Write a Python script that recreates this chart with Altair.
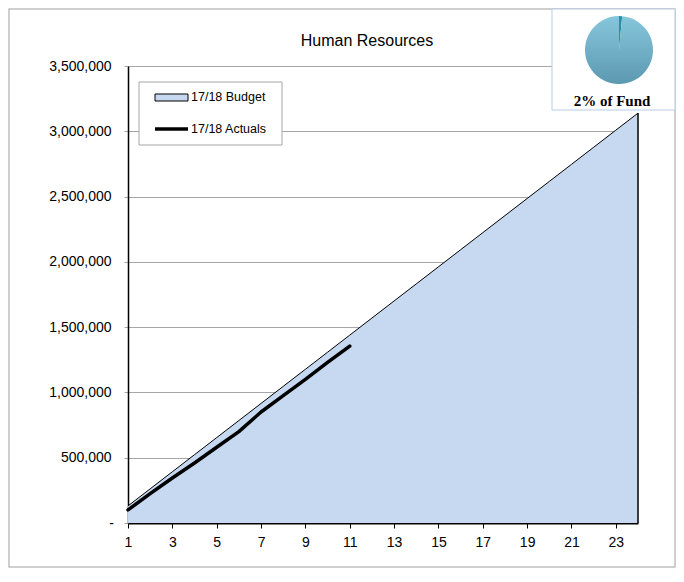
import altair as alt
import pandas as pd

# ---------------- data ----------------
periods = list(range(1, 25))
budget = [130800, 261600, 392400, 523200, 654000, 784800, 915600, 1046400,
          1177200, 1308000, 1438800, 1569600, 1700400, 1831200, 1962000, 2092800,
          2223600, 2354400, 2485200, 2616000, 2746800, 2877600, 3008400, 3139200]
actual_periods = list(range(1, 12))
actuals = [100000, 225000, 345000, 460000, 580000, 700000, 850000, 975000,
           1100000, 1230000, 1355000]
y_ticks = [0, 500000, 1000000, 1500000, 2000000, 2500000, 3000000, 3500000]
x_ticks = list(range(1, 25))
pie_parts = ["Human Resources", "Rest of Fund"]
pie_share = [1.5, 98.5]
pie_order = [0, 1]
title_text = "Human Resources"
legend_labels = ["17/18 Budget", "17/18 Actuals"]
pie_label = "2% of Fund"

FONT = "Liberation Sans"
W, H = 510, 457
PAD = {"left": 120, "top": 58, "right": 38, "bottom": 45}

bdf = pd.DataFrame({"period": periods, "value": budget})
adf = pd.DataFrame({"period": actual_periods, "value": actuals})
pdf = pd.DataFrame({"part": pie_parts, "share": pie_share, "order": pie_order})
one = pd.DataFrame({"k": [0]})

xscale = alt.Scale(domain=[1, 24], nice=False, zero=False)
yscale = alt.Scale(domain=[0, 3500000], nice=False)

xaxis = alt.Axis(values=x_ticks, labelExpr="datum.value % 2 == 1 ? datum.label : ''",
                 grid=False, domainColor="black", domainWidth=2, tickColor="black",
                 tickSize=5, labelFontSize=14, labelPadding=7, labelColor="black",
                 labelFont=FONT, title=None, labelFlush=False)
yaxis = alt.Axis(values=y_ticks,
                 labelExpr="datum.value == 0 ? '-' : format(datum.value, ',')",
                 labelAlign=alt.ExprRef(expr="datum.value == 0 ? 'center' : 'right'"),
                 grid=True, gridColor="#A6A6A6", domainColor="black", domainWidth=1.5,
                 tickColor="#A6A6A6", tickSize=4, labelPadding=13, labelFontSize=14,
                 labelColor="black", labelFont=FONT, title=None)

outer = alt.Chart(one).mark_rect(fill="white", fillOpacity=0, stroke="#BFBFBF", strokeWidth=1.5).encode(
    x=alt.value(-119), x2=alt.value(547), y=alt.value(-57), y2=alt.value(501))

area = alt.Chart(bdf).mark_area(color="#C6D9F0").encode(
    x=alt.X("period:Q", scale=xscale, axis=xaxis),
    y=alt.Y("value:Q", scale=yscale, axis=yaxis))
bline = alt.Chart(bdf).mark_line(color="black", strokeWidth=1).encode(
    x="period:Q", y="value:Q")
edge = alt.Chart(bdf).transform_filter("datum.period == 24").mark_rule(
    color="black", strokeWidth=1.5).encode(x="period:Q", y="value:Q", y2=alt.datum(0))
aline = alt.Chart(adf).mark_line(color="black", strokeWidth=3.5, strokeCap="round",
                                 strokeJoin="round").encode(x="period:Q", y="value:Q")

title = alt.Chart(one).mark_text(text=title_text, font=FONT, fontSize=16, color="black").encode(
    x=alt.value(239), y=alt.value(-25))

# legend
lbox = alt.Chart(one).mark_rect(fill="white", stroke="#A6A6A6", strokeWidth=1).encode(
    x=alt.value(11), x2=alt.value(154), y=alt.value(16), y2=alt.value(79))
lswatch = alt.Chart(one).mark_rect(fill="#C6D9F0", stroke="black", strokeWidth=1).encode(
    x=alt.value(27), x2=alt.value(60), y=alt.value(28), y2=alt.value(35))
lline = alt.Chart(one).mark_rule(color="black", strokeWidth=3.5).encode(
    x=alt.value(27), x2=alt.value(60), y=alt.value(63))
ltext1 = alt.Chart(one).mark_text(text=legend_labels[0], font=FONT, fontSize=12.5, align="left",
                                  baseline="middle", color="black").encode(x=alt.value(63), y=alt.value(31))
ltext2 = alt.Chart(one).mark_text(text=legend_labels[1], font=FONT, fontSize=12.5, align="left",
                                  baseline="middle", color="black").encode(x=alt.value(63), y=alt.value(63))

# pie inset
pbox = alt.Chart(one).mark_rect(fill="white", stroke="#B9CDE5", strokeWidth=1).encode(
    x=alt.value(424), x2=alt.value(547), y=alt.value(-57), y2=alt.value(44))
grad = {"gradient": "linear", "x1": 0, "y1": 0, "x2": 0, "y2": 1,
        "stops": [{"offset": 0, "color": "#86C6DB"}, {"offset": 1, "color": "#5C99B1"}]}
pie = alt.Chart(pdf).mark_arc(radius=34).encode(
    theta=alt.Theta("share:Q", stack=True),
    order=alt.Order("order:Q"),
    fill=alt.condition("datum.order == 0", alt.value("#2E8DAA"), alt.value(grad)),
    x=alt.value(491), y=alt.value(-16))
ptext = alt.Chart(one).mark_text(text=pie_label, font="Liberation Serif", fontSize=15,
                                 fontWeight="bold", color="black").encode(
    x=alt.value(484), y=alt.value(35))

chart = alt.layer(outer, area, bline, edge, aline, title, lbox, lswatch, lline, ltext1, ltext2,
                  pbox, pie, ptext).properties(
    width=W, height=H, padding=PAD, autosize=alt.AutoSizeParams(type="none")
).resolve_scale(theta="independent").configure_view(stroke=None)

chart.save("out.html", embed_options={"renderer": "svg", "actions": False})
